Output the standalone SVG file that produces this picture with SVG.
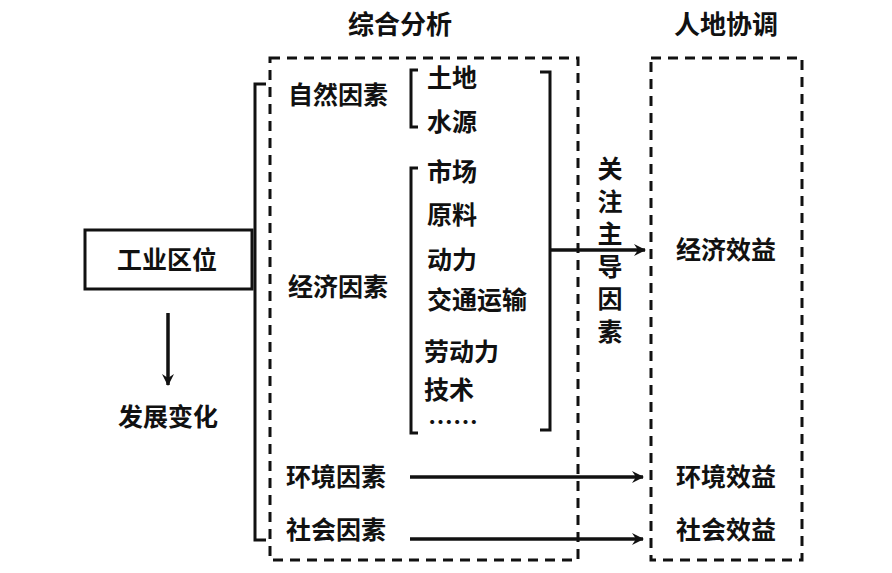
<svg xmlns="http://www.w3.org/2000/svg" width="892" height="573" viewBox="0 0 892 573">
<defs>
<style>
text{font-family:"Noto Sans CJK SC","Noto Sans",sans-serif;font-weight:bold;fill:#111;font-size:25px;dominant-baseline:central}
.t{font-size:26px}
.m{text-anchor:middle}
.v{writing-mode:vertical-rl;letter-spacing:7.6px}
.line{fill:none;stroke:#111;stroke-width:3}
.dash{fill:none;stroke:#111;stroke-width:3;stroke-dasharray:10 7}
.arr{fill:none;stroke:#111;stroke-width:3.5;marker-end:url(#ah)}
</style>
<marker id="ah" viewBox="0 0 12 12" refX="11" refY="6" markerWidth="12" markerHeight="12" markerUnits="userSpaceOnUse" orient="auto">
<path d="M0,0 L12,6 L0,12 L4,6 Z" fill="#111"/>
</marker>
</defs>
<rect width="892" height="573" fill="#fff"/>
<g id="title-analysis"><text class="t m" x="400" y="22">综合分析</text></g>
<g id="title-harmony"><text class="t m" x="726" y="22">人地协调</text></g>
<g id="box-analysis"><rect class="dash" x="270" y="58" width="308" height="502"/></g>
<g id="box-harmony"><rect class="dash" x="651" y="58" width="151" height="502"/></g>
<g id="node-industry"><rect class="line" x="85" y="230" width="167" height="59"/><text class="m" x="167" y="258">工业区位</text></g>
<g id="node-change"><text class="m" x="168" y="415">发展变化</text></g>
<g id="node-natural"><text x="288" y="93">自然因素</text></g>
<g id="node-land"><text x="427" y="76">土地</text></g>
<g id="node-water"><text x="427" y="120">水源</text></g>
<g id="node-economic"><text x="288" y="285">经济因素</text></g>
<g id="node-market"><text x="427" y="170">市场</text></g>
<g id="node-material"><text x="427" y="213">原料</text></g>
<g id="node-power"><text x="427" y="258">动力</text></g>
<g id="node-transport"><text x="427" y="298">交通运输</text></g>
<g id="node-labor"><text x="424" y="350">劳动力</text></g>
<g id="node-tech"><text x="424" y="388">技术</text></g>
<g id="node-etc"><text x="428" y="421">……</text></g>
<g id="node-env"><text x="286" y="475">环境因素</text></g>
<g id="node-social"><text x="286" y="528">社会因素</text></g>
<g id="node-focus"><text class="v" x="610" y="156">关注主导因素</text></g>
<g id="node-econ-benefit"><text class="m" x="726" y="248">经济效益</text></g>
<g id="node-env-benefit"><text class="m" x="726" y="475">环境效益</text></g>
<g id="node-social-benefit"><text class="m" x="726" y="528">社会效益</text></g>
<g id="connectors">
<path class="line" d="M266,84 H255 V540 H266"/>
<path class="line" d="M418,70 H411 V127 H418"/>
<path class="line" d="M418,168 H411 V433 H418"/>
<path class="line" d="M540,72 H550 V430 H540"/>
<path class="arr" d="M550,250 H645"/>
<path class="arr" d="M410,477 H643"/>
<path class="arr" d="M410,539 H643"/>
<path class="arr" d="M168,313 V385"/>
</g>
</svg>
